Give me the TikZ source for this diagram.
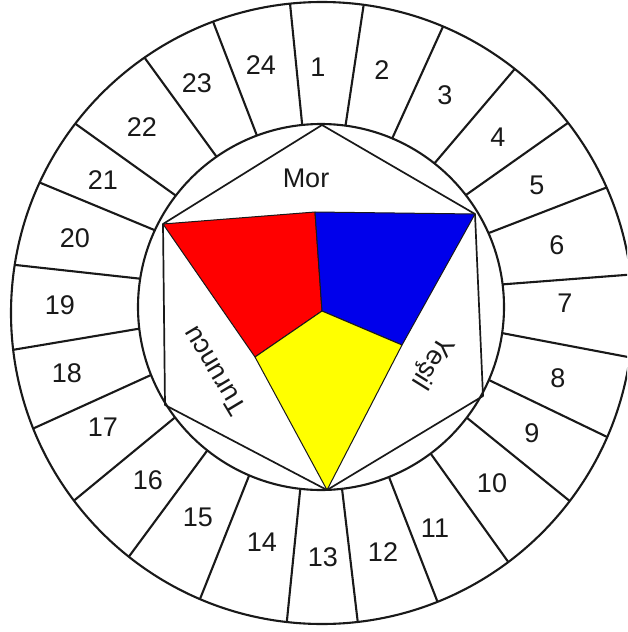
\documentclass[tikz,border=0pt]{standalone}
\usepackage{fontspec}
\setmainfont{Liberation Sans}
\usetikzlibrary{calc}
\definecolor{cred}{RGB}{255,0,0}
\definecolor{cblue}{RGB}{0,0,235}
\definecolor{cyellow}{RGB}{255,255,0}
\definecolor{ink}{RGB}{25,25,25}
\begin{document}
\begin{tikzpicture}[x=1pt,y=-1pt,
  ring/.style={line width=2.1pt,draw=ink},
  hexa/.style={line width=1.7pt,draw=ink,line join=round},
  part/.style={draw=ink,line width=1pt,line join=round},
  lbl/.style={font=\fontsize{27}{30}\selectfont,inner sep=0pt,text=ink}]
\useasboundingbox (0,0) rectangle (627,632);
\clip (0,0) rectangle (627,632);
\fill[white] (0,0) rectangle (627,632);
\coordinate (Co) at (322,313);
\coordinate (Ci) at (321,307);
% triangle points
\coordinate (A) at (163,224);
\coordinate (B) at (475,214);
\coordinate (D) at (327,490);
\coordinate (M) at (315,212);
\coordinate (O) at (322,311);
\coordinate (L) at (255,357);
\coordinate (R) at (402,345);
% hexagon extra vertices
\coordinate (T) at (322,125);
\coordinate (BR) at (483,396);
\coordinate (BL) at (165,405);
% coloured parts
\filldraw[part,fill=cred] (A) -- (M) -- (O) -- (L) -- cycle;
\filldraw[part,fill=cblue] (M) -- (B) -- (R) -- (O) -- cycle;
\filldraw[part,fill=cyellow] (L) -- (O) -- (R) -- (D) -- cycle;
% hexagon
\draw[hexa] (A) -- (T) -- (B) -- (BR) -- (D) -- (BL) -- cycle;
% circles
\draw[ring] (Co) circle[radius=311pt];
\draw[ring] (Ci) circle[radius=183pt];
% spokes
\foreach \a in {95.9,82.3,67.1,51.7,37.7,23.8,7.1,351.8,336.5,322.8,306.8,291.8,276.6,263.5,246.9,231.6,217.1,201.8,186.8,171.1,155.2,142.5,124.8,110.5}
  \draw[ring] ($(Co)+({311*cos(\a)},{-311*sin(\a)})$) -- ($(Ci)+({183*cos(\a)},{-183*sin(\a)})$);
% numbers
\foreach \n/\x/\y in {1/318/67,2/382/70,3/445/95,4/498/137,5/537/185,6/557/245,7/565/303,8/558/378,9/532/433,10/492/483,11/435/528,12/383/552,13/323/557,14/262/542,15/198/517,16/148/480,17/103/427,18/67/373,19/60/305,20/75/238,21/103/180,22/142/127,23/197/83,24/261/65}
  \node[lbl] (n\n) at (\x,\y) {\n};
% colour names
\node[lbl] (mor) at (306,178) {Mor};
\node[lbl,rotate=121] (tur) at (214,371) {Turuncu};
\node[lbl,rotate=-122] (yes) at (432,362) {Yeşil};
\end{tikzpicture}
\end{document}
